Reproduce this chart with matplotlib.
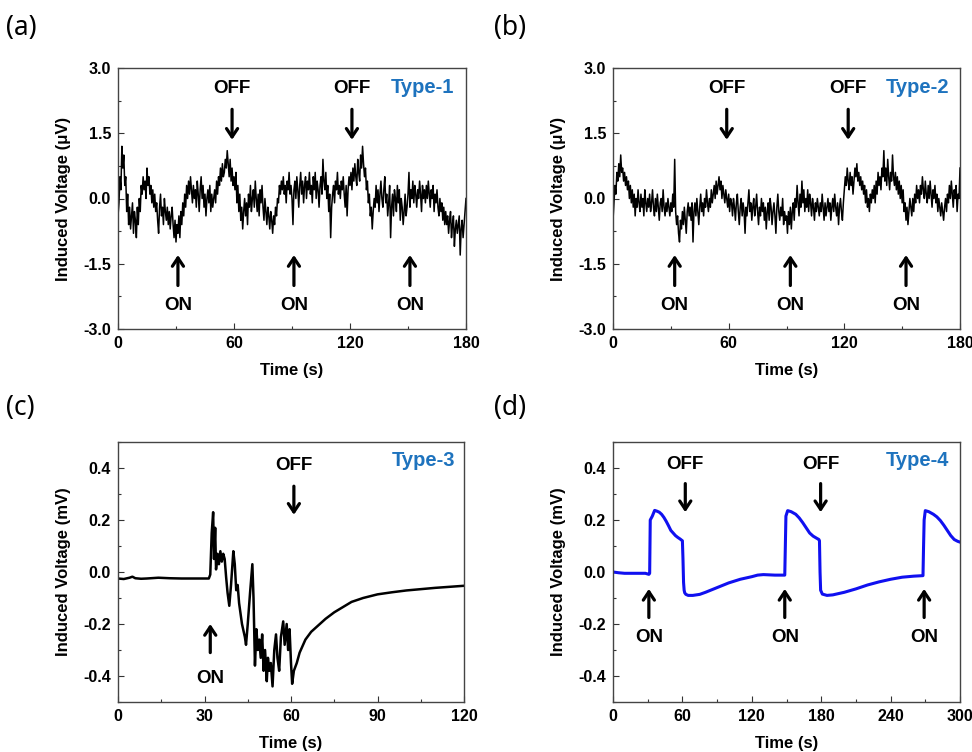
import matplotlib
matplotlib.use("Agg")
import matplotlib.pyplot as plt
from matplotlib.ticker import MultipleLocator

# ---------------- data ----------------
# Panel (a) Type-1, sampled every 0.5 s from 0 to 180 s (uV)
type1_v = [
    -0.4, -0.1, 0.5, 0.2, 1.2, 0.7, 1.0, 0.3, 0.5, -0.3, 0.1, -0.6, -0.2, -0.7, -0.4, -0.1, -0.8, -0.3, -0.5, -0.9,
    -0.2, -0.6, 0.0, -0.3, 0.3, 0.1, 0.5, 0.2, 0.4, 0.0, 0.7, 0.3, 0.5, 0.1, 0.3, -0.1, 0.2, -0.2, 0.1, -0.3,
    -0.1, -0.5, -0.8, -0.2, 0.1, -0.4, -0.2, -0.6, 0.0, -0.3, -0.5, -0.2, -0.6, -0.3, -0.7, -0.4, -0.2, -0.6, -0.9, -0.5,
    -1.0, -0.6, -0.8, -0.4, -0.9, -0.3, -0.6, -0.1, -0.4, 0.1, -0.2, 0.3, 0.0, 0.4, 0.1, 0.5, 0.2, -0.1, 0.3, 0.0,
    0.2, -0.2, 0.4, 0.1, -0.3, 0.2, 0.5, 0.0, 0.3, -0.2, 0.1, -0.4, 0.0, 0.2, -0.1, 0.3, -0.3, 0.1, -0.2, 0.0,
    0.2, -0.1, 0.4, 0.1, 0.5, 0.3, 0.7, 0.4, 0.8, 0.5, 0.6, 0.9, 0.7, 1.1, 0.8, 0.5, 0.9, 0.4, 0.7, 0.3,
    0.5, 0.2, 0.6, -0.1, 0.3, -0.3, 0.1, -0.5, -0.2, -0.7, -0.3, 0.0, -0.4, -0.1, -0.6, 0.1, -0.2, 0.3, -0.3, 0.0,
    0.2, -0.2, 0.4, 0.0, -0.3, 0.1, -0.4, 0.2, -0.1, 0.3, -0.2, -0.5, 0.0, -0.3, -0.6, -0.2, -0.4, -0.7, -0.3, -0.5,
    -0.8, -0.4, -0.6, -0.2, -0.4, 0.0, -0.1, 0.3, 0.1, 0.4, 0.2, 0.5, 0.1, 0.3, -0.1, 0.4, 0.2, 0.6, 0.1, 0.3,
    0.0, -0.6, 0.2, 0.4, 0.0, 0.5, 0.2, -0.2, 0.3, 0.6, 0.1, 0.4, -0.1, 0.3, 0.5, 0.0, 0.4, 0.2, 0.6, 0.1,
    0.3, -0.1, 0.5, 0.2, 0.6, 0.0, 0.4, 0.2, -0.2, 0.3, 0.5, 0.1, 0.9, 0.4, 0.2, 0.6, 0.0, 0.3, -0.3, 0.1,
    -0.9, -0.2, 0.1, 0.3, -0.1, 0.4, 0.2, 0.6, 0.1, 0.3, 0.0, 0.4, 0.2, 0.5, 0.1, -0.2, 0.3, -0.4, 0.2, 0.5,
    0.3, 0.6, 0.2, 0.7, 0.4, 0.8, 0.5, 0.3, 0.9, 0.6, 0.4, 1.0, 0.7, 1.2, 0.8, 0.5, 0.7, 0.2, 0.4, -0.1,
    0.1, -0.4, -0.2, -0.7, -0.3, 0.0, -0.2, 0.3, -0.1, 0.2, -0.3, 0.1, 0.4, 0.0, -0.2, 0.2, 0.5, -0.1, 0.1, -0.4,
    -0.1, 0.3, -0.9, -0.2, 0.1, -0.4, 0.2, 0.0, -0.3, 0.3, -0.1, 0.2, -0.5, 0.0, -0.2, -0.6, -0.3, 0.1, -0.4, -0.2,
    0.1, 0.6, -0.2, 0.2, 0.0, 0.4, -0.1, 0.3, 0.1, -0.2, 0.2, 0.0, 0.4, 0.1, -0.3, 0.3, 0.0, 0.2, -0.1, 0.3,
    0.0, 0.4, 0.1, -0.2, 0.2, 0.0, 0.3, -0.3, 0.1, -0.1, 0.2, -0.2, -0.4, 0.0, -0.3, -0.1, -0.5, -0.2, -0.6, -0.3,
    -0.6, -0.4, -0.8, -0.5, -0.3, -0.9, -0.6, -0.4, -1.1, -0.7, -0.5, -0.8, -0.6, -0.4, -1.3, -0.7, -0.5, -0.9, -0.6, -0.3,
    0.0,
]

# Panel (b) Type-2, sampled every 0.5 s from 0 to 180 s (uV)
type2_v = [
    -0.5, -0.1, 0.3, 0.1, 0.6, 0.4, 0.8, 0.5, 1.0, 0.6, 0.7, 0.4, 0.6, 0.3, 0.5, 0.2, 0.4, 0.0, 0.3, -0.1,
    0.2, -0.2, 0.1, -0.4, 0.0, -0.2, 0.2, -0.1, -0.3, 0.1, -0.2, 0.0, -0.4, 0.2, -0.1, -0.3, 0.0, -0.2, 0.1, -0.3,
    -0.1, 0.2, -0.2, -0.4, 0.0, -0.3, 0.1, -0.2, -0.5, -0.1, 0.0, -0.3, 0.2, -0.2, -0.4, -0.1, -0.3, 0.0, -0.2, -0.4,
    -0.1, -0.3, 0.1, -0.2, 0.9, -0.3, -0.6, -0.4, -0.8, -1.0, -0.5, -0.7, -0.3, -0.6, -0.2, -0.5, -0.8, -0.3, -0.1, -0.4,
    -0.2, -0.5, -0.1, -1.0, -0.3, -0.1, -0.4, 0.0, -0.3, -0.6, -0.2, 0.1, -0.3, -0.1, -0.4, 0.0, -0.2, 0.2, -0.1, -0.3,
    0.0, -0.2, 0.2, -0.1, 0.1, 0.3, 0.0, 0.4, 0.1, 0.3, 0.5, 0.2, 0.4, 0.0, 0.3, 0.1, -0.1, 0.2, 0.0, -0.2,
    0.1, -0.3, 0.0, -0.1, -0.4, 0.0, -0.2, -0.5, -0.1, 0.1, -0.3, -0.6, -0.2, 0.0, -0.4, -0.1, -0.3, -0.8, -0.2, -0.4,
    -0.1, 0.2, -0.3, -0.1, -0.5, -0.2, 0.0, -0.4, -0.2, 0.1, -0.3, -0.6, -0.2, -0.4, 0.0, -0.3, -0.1, -0.5, -0.2, -0.7,
    -0.3, -0.1, -0.5, 0.0, -0.2, -0.6, -0.3, -0.1, -0.4, -0.8, -0.2, 0.1, -0.3, -0.5, -0.2, -0.4, 0.0, -0.6, -0.3, -0.5,
    -0.4, -0.8, -0.3, -0.6, -0.2, -0.7, -0.3, -0.1, -0.5, 0.0, -0.2, 0.3, -0.1, -0.4, 0.1, -0.2, 0.4, -0.1, 0.2, -0.3,
    0.0, -0.2, 0.2, -0.3, 0.1, -0.1, -0.4, 0.0, -0.2, -0.5, -0.1, -0.3, 0.0, -0.2, -0.4, -0.1, -0.3, 0.1, -0.2, -0.5,
    -0.1, -0.4, -0.2, 0.0, -0.3, -0.1, -0.5, -0.2, 0.0, -0.3, 0.1, -0.2, -0.4, -0.1, -0.6, -0.2, 0.0, -0.3, -0.5, -0.1,
    0.2, 0.5, 0.3, 0.7, 0.4, 0.2, 0.6, 0.3, 0.5, 0.1, 0.4, 0.7, 0.5, 0.8, 0.4, 0.6, 0.3, 0.5, 0.2, 0.4,
    0.1, 0.3, -0.1, 0.2, -0.2, 0.0, -0.3, 0.1, -0.1, 0.2, 0.0, 0.3, -0.1, 0.4, 0.1, 0.6, 0.3, 0.5, 0.2, 0.7,
    0.5, 1.1, 0.4, 0.7, 0.3, 0.9, 0.5, 0.2, 0.6, 0.4, 1.0, 0.5, 0.3, 0.6, 0.2, 0.5, 0.1, 0.4, 0.0, 0.3,
    -0.1, 0.2, -0.3, -0.1, -0.5, -0.2, -0.6, -0.3, 0.0, -0.2, -0.4, 0.0, -0.3, 0.1, -0.1, 0.3, 0.0, 0.2, -0.1, 0.3,
    0.1, 0.5, 0.2, 0.0, 0.4, 0.1, -0.1, 0.3, 0.0, 0.4, 0.1, -0.2, 0.2, 0.0, 0.3, -0.1, 0.1, -0.3, 0.0, -0.2,
    -0.4, -0.1, -0.3, -0.5, -0.2, 0.0, -0.3, 0.1, -0.1, 0.3, 0.0, 0.4, 0.1, -0.2, 0.2, 0.0, 0.3, -0.3, 0.1, 0.0,
    0.7,
]
noise_t = [i * 0.5 for i in range(len(type1_v))]

# Panel (c) Type-3 (mV)
type3_t = [0, 2, 4, 5, 6, 8, 10, 14, 18, 22, 26, 30,
           31.5, 32, 32.5, 33, 33.3, 33.7, 34, 34.5, 35, 35.5,
           36, 36.5, 37, 37.5, 38, 38.6, 39.2, 40, 40.5, 41,
           41.5, 42, 43, 44, 44.4, 45, 45.8, 46.6, 47, 47.5,
           48, 48.5, 49, 49.5, 50, 50.5, 51, 51.6, 52, 52.5,
           53, 53.6, 54.2, 54.8, 55.3, 55.9, 56.5, 57.3, 57.8, 58.5,
           59, 59.5, 60, 60.4, 61, 62, 63, 65, 67, 70,
           72, 75, 78, 81, 85, 90, 95, 100, 105, 110,
           115, 120]
type3_v = [-0.025, -0.027, -0.022, -0.018, -0.024, -0.026, -0.025, -0.022, -0.024, -0.025, -0.025, -0.025,
           -0.025, -0.01, 0.15, 0.23, 0.05, 0.17, 0.01, 0.07, 0.03, 0.08,
           0.04, 0.07, 0.05, -0.02, -0.08, -0.13, -0.05, 0.08, 0.03, -0.07,
           -0.05, -0.12, -0.2, -0.25, -0.28, -0.2, -0.08, 0.03, -0.1, -0.36,
           -0.22, -0.3, -0.26, -0.33, -0.24, -0.38, -0.3, -0.42, -0.33, -0.38,
           -0.35, -0.44, -0.3, -0.24, -0.33, -0.38, -0.25, -0.19, -0.28, -0.2,
           -0.3, -0.22, -0.35, -0.43, -0.38, -0.35, -0.31, -0.26, -0.23, -0.2,
           -0.18, -0.155, -0.135, -0.115, -0.1, -0.086, -0.078, -0.071, -0.066, -0.061,
           -0.057, -0.053]

# Panel (d) Type-4 (mV)
type4_t = [0, 5, 10, 20, 28, 31, 31.7, 32.2, 34, 36, 38, 40, 42, 44, 46, 48, 50, 52, 54, 56, 58, 60,
           60.5, 61, 61.5, 62, 63, 65, 69, 75, 80, 90, 100, 110, 120, 125, 130, 140, 148.5,
           149, 149.5, 151, 154, 158, 161, 164, 167, 170, 173, 176, 178, 178.5,
           179, 179.5, 181, 185, 190, 200, 210, 220, 230, 240, 250, 260, 268,
           268.5, 269, 270, 273, 277, 280, 283, 286, 289, 292, 295, 298, 300]
type4_v = [0.0, -0.003, -0.005, -0.005, -0.005, -0.009, -0.005, 0.2, 0.215, 0.237, 0.234, 0.23, 0.222, 0.21, 0.195,
           0.178, 0.16, 0.15, 0.14, 0.133, 0.127, 0.12,
           0.05, -0.04, -0.07, -0.08, -0.086, -0.09, -0.09, -0.086, -0.078, -0.06, -0.042, -0.028, -0.018, -0.012,
           -0.01, -0.012, -0.012,
           0.1, 0.215, 0.236, 0.232, 0.222, 0.208, 0.19, 0.17, 0.15, 0.138, 0.13, 0.125, 0.12,
           0.0, -0.07, -0.085, -0.09, -0.088, -0.078, -0.065, -0.05, -0.038, -0.028, -0.02, -0.016, -0.014,
           0.1, 0.2, 0.236, 0.232, 0.222, 0.212, 0.198, 0.18, 0.16, 0.14, 0.125, 0.118, 0.115]

# annotation times
on_a, off_a = [31, 91, 151], [59, 121]
on_b, off_b = [32, 92, 152], [59, 122]
on_c, off_c = [32], [61]
on_d, off_d = [31, 148.5, 269], [62.5, 179.5]

# ---------------- style ----------------
plt.rcParams['font.family'] = ['Liberation Sans', 'DejaVu Sans']
fig = plt.figure(figsize=(9.72, 7.52), dpi=100)

pos = {
    'a': [118 / 972, 1 - 329 / 752, 348 / 972, 261 / 752],
    'b': [613 / 972, 1 - 329 / 752, 347 / 972, 261 / 752],
    'c': [118 / 972, 1 - 702 / 752, 346 / 972, 260 / 752],
    'd': [613 / 972, 1 - 702 / 752, 347 / 972, 260 / 752],
}
TYPE_COLOR = '#1e73be'


def style_axes(ax, xmax, xmaj, xmin, ylim, ymaj, ymin, ylabel, yfmt):
    ax.set_xlim(0, xmax)
    ax.set_ylim(*ylim)
    ax.xaxis.set_major_locator(MultipleLocator(xmaj))
    ax.xaxis.set_minor_locator(MultipleLocator(xmin))
    ax.yaxis.set_major_locator(MultipleLocator(ymaj))
    ax.yaxis.set_minor_locator(MultipleLocator(ymin))
    ax.tick_params(which='both', direction='in', top=False, right=False,
                   labelsize=11.5, width=0.8, colors='#333333', labelcolor='black')
    ax.tick_params(which='major', length=4, pad=5)
    ax.tick_params(which='minor', length=2)
    ax.set_yticklabels([yfmt.format(v) for v in ax.get_yticks()])
    for lab in ax.get_xticklabels() + ax.get_yticklabels():
        lab.set_fontweight('bold')
    for s in ax.spines.values():
        s.set_color('#444444')
        s.set_linewidth(1.0)
    ax.set_xlabel('Time (s)', fontsize=12, fontweight='bold', labelpad=9)
    ax.set_ylabel(ylabel, fontsize=12, fontweight='bold', labelpad=9)


def arrows(ax, ons, offs, on_tail, on_tip, on_text, off_tail, off_tip, off_text):
    ap = dict(arrowstyle='->,head_width=0.4,head_length=0.6', lw=2.3, color='black',
              shrinkA=0, shrinkB=0)
    for x in ons:
        ax.annotate('', xy=(x, on_tip), xytext=(x, on_tail), arrowprops=ap)
        ax.text(x, on_text, 'ON', ha='center', va='center', fontsize=13.5, fontweight='bold')
    for x in offs:
        ax.annotate('', xy=(x, off_tip), xytext=(x, off_tail), arrowprops=ap)
        ax.text(x, off_text, 'OFF', ha='center', va='center', fontsize=13.5, fontweight='bold')


# (a)
ax = fig.add_axes(pos['a'])
ax.plot(noise_t, type1_v, color='black', lw=1.1)
style_axes(ax, 180, 60, 30, (-3.0, 3.0), 1.5, 0.75, 'Induced Voltage (\u03bcV)', '{:.1f}')
arrows(ax, on_a, off_a, -2.0, -1.3, -2.45, 2.05, 1.35, 2.52)
ax.text(174, 2.56, 'Type-1', ha='right', va='center', color=TYPE_COLOR, fontsize=14.5, fontweight='bold')

# (b)
ax = fig.add_axes(pos['b'])
ax.plot(noise_t, type2_v, color='black', lw=1.1)
style_axes(ax, 180, 60, 30, (-3.0, 3.0), 1.5, 0.75, 'Induced Voltage (\u03bcV)', '{:.1f}')
arrows(ax, on_b, off_b, -2.0, -1.3, -2.45, 2.05, 1.35, 2.52)
ax.text(174.5, 2.56, 'Type-2', ha='right', va='center', color=TYPE_COLOR, fontsize=14.5, fontweight='bold')

# (c)
ax = fig.add_axes(pos['c'])
ax.plot(type3_t, type3_v, color='black', lw=1.8)
style_axes(ax, 120, 30, 15, (-0.5, 0.5), 0.2, 0.1, 'Induced Voltage (mV)', '{:.1f}')
arrows(ax, on_c, off_c, -0.31, -0.2, -0.41, 0.33, 0.22, 0.41)
ax.text(117, 0.43, 'Type-3', ha='right', va='center', color=TYPE_COLOR, fontsize=14.5, fontweight='bold')

# (d)
ax = fig.add_axes(pos['d'])
ax.plot(type4_t, type4_v, color='#1010f0', lw=2.2)
style_axes(ax, 300, 60, 30, (-0.5, 0.5), 0.2, 0.1, 'Induced Voltage (mV)', '{:.1f}')
arrows(ax, on_d, off_d, -0.175, -0.065, -0.25, 0.34, 0.23, 0.415)
ax.text(291, 0.43, 'Type-4', ha='right', va='center', color=TYPE_COLOR, fontsize=14.5, fontweight='bold')

# panel letters
for lab, x, y in [('(a)', 6, 28), ('(b)', 494, 28), ('(c)', 6, 408), ('(d)', 494, 408)]:
    fig.text(x / 972, 1 - y / 752, lab, fontsize=19, ha='left', va='center',
             family=['Noto Sans', 'DejaVu Sans'], fontweight='medium')

fig.savefig('out.png', dpi=100)
